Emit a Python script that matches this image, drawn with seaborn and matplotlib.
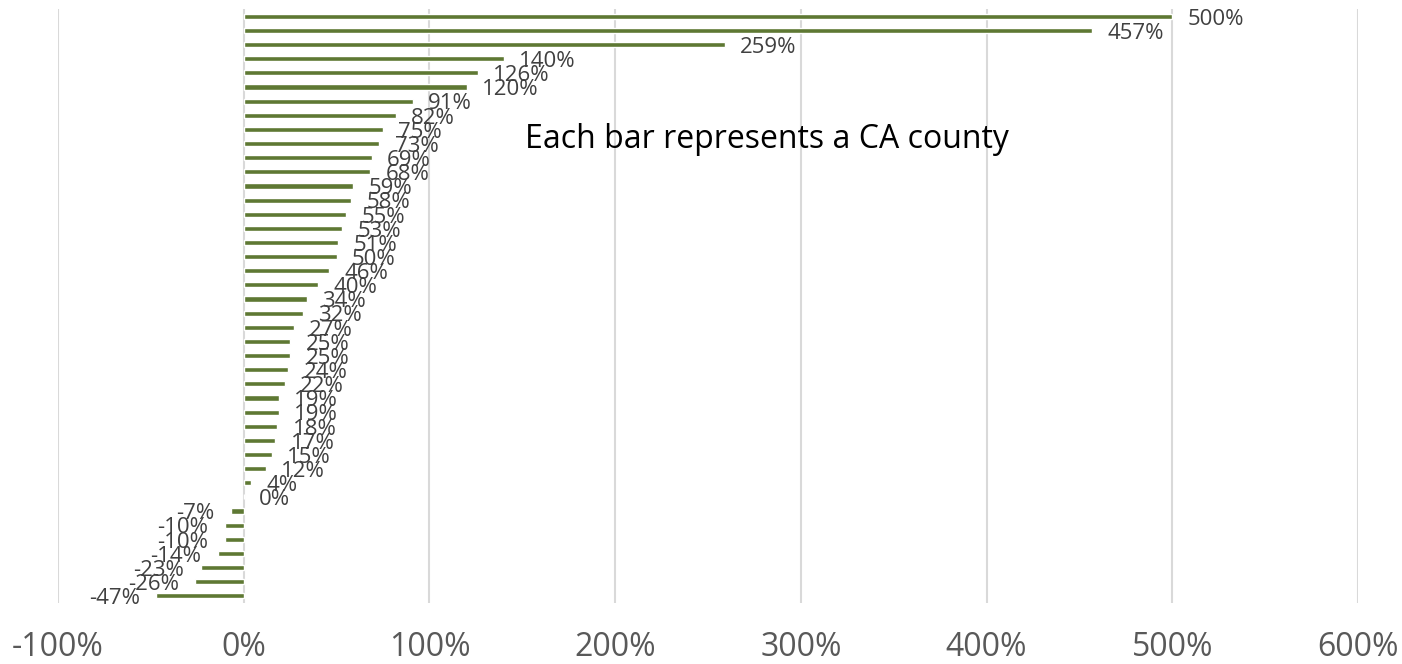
import matplotlib
matplotlib.use("Agg")
import matplotlib.pyplot as plt
import seaborn as sns
import pandas as pd

# percent change per county, sorted top to bottom
change = [500, 457, 259, 140, 126, 120, 91, 82, 75, 73, 69, 68, 59, 58, 55,
          53, 51, 50, 46, 40, 34, 32, 27, 25, 25, 24, 22, 19, 19, 18, 17, 15,
          12, 4, 0, -7, -10, -10, -14, -23, -26, -47]
county = ["c{}".format(i) for i in range(len(change))]
x_ticks = [-100, 0, 100, 200, 300, 400, 500, 600]
note = "Each bar represents a CA county"

sns.set_style("white")
plt.rcParams['font.family'] = ['Open Sans', 'DejaVu Sans']

df = pd.DataFrame({'county': county, 'change': change})

fig = plt.figure(figsize=(14.02, 6.64), dpi=100)
ax = fig.add_axes([0.0414, 0.092, 0.9272, 0.894])

sns.barplot(data=df, x='change', y='county', orient='h', color='#5E7833',
            saturation=1, width=0.36, ax=ax)

ax.set_xlim(-100, 600)
ax.set_ylim(len(change) - 0.5, -0.5)
ax.set_xticks(x_ticks)
ax.set_xticklabels(["{}%".format(t) for t in x_ticks], fontsize=23, color='#595959')
ax.tick_params(axis='x', length=0, pad=20)
ax.set_yticks([])
ax.set_xlabel('')
ax.set_ylabel('')
ax.grid(axis='x', color='#D9D9D9', linewidth=1.5)
ax.set_axisbelow(True)
for s in ax.spines.values():
    s.set_visible(False)

# data labels next to each bar end
for i, v in enumerate(change):
    if v >= 0:
        ax.annotate("{}%".format(v), (v, i), xytext=(11, -2), textcoords='offset points',
                    ha='left', va='center', fontsize=16, color='#404040')
    else:
        ax.annotate("{}%".format(v), (v, i), xytext=(-12, -2), textcoords='offset points',
                    ha='right', va='center', fontsize=16, color='#404040')

ax.text(767 / 1402, 1 - 139 / 664, note, transform=fig.transFigure,
        ha='center', va='center', fontsize=23, color='black')

fig.savefig('out.png', dpi=100)
